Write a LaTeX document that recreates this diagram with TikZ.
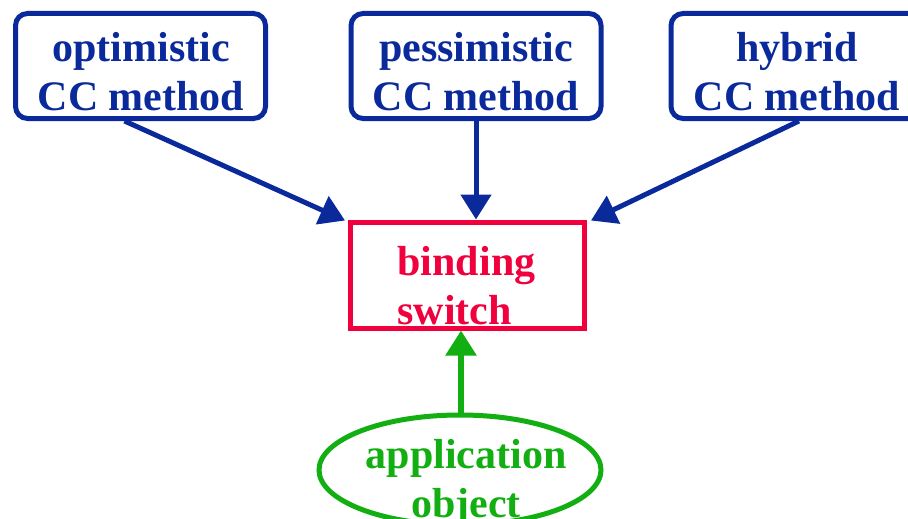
\documentclass[tikz,border=0pt]{standalone}
\usepackage{fontspec}
\setmainfont{Liberation Serif}
\usetikzlibrary{arrows.meta,shapes.geometric}
\definecolor{methodblue}{HTML}{0A2A9C}
\definecolor{switchred}{HTML}{F0003C}
\definecolor{appgreen}{HTML}{12AE12}
\tikzset{
  bigtext/.style={font=\fontsize{42}{49}\selectfont\bfseries, align=center},
  methodbox/.style={draw=methodblue, line width=5pt, rounded corners=12pt,
    minimum width=250pt, minimum height=105pt, inner sep=0pt},
  methodtext/.style={bigtext, text=methodblue},
  feed/.style={draw=methodblue, line width=5pt, -{Triangle[length=25pt,width=30pt]}},
  lift/.style={draw=appgreen, line width=5.5pt, -{Triangle[length=25pt,width=30pt]}},
}
\begin{document}
\begin{tikzpicture}[x=1pt,y=-1pt]
  \useasboundingbox (0,0) rectangle (908,519);
  \clip (0,0) rectangle (908,519);

  % three concurrency-control methods
  \node[methodbox] (opt)  at (140.5,66) {};
  \node[methodbox] (pess) at (476,66) {};
  \node[methodbox] (hyb)  at (796,66) {};
  \node[methodtext] (opttext)  at (141,72) {optimistic\\CC method};
  \node[methodtext] (pesstext) at (476,72) {pessimistic\\CC method};
  \node[methodtext] (hybtext)  at (797,72) {hybrid\\CC method};

  % binding switch
  \node[draw=switchred, line width=5pt, minimum width=234pt, minimum height=106pt,
        inner sep=0pt] (bind) at (467.5,275) {};
  \node[bigtext, text=switchred, align=left] (bindtext) at (466.5,286) {binding\\switch};

  % application object
  \node[ellipse, draw=appgreen, line width=5pt, minimum width=282pt, minimum height=110pt,
        inner sep=0pt, outer sep=0pt] (app) at (460,470) {};
  \node[bigtext, text=appgreen] (apptext) at (466,483) {application\\object};

  % connectors
  \draw[feed] ([xshift=-16pt]opt.south) -- ([xshift=-3pt,yshift=-1pt]bind.north west);
  \draw[feed] (pess.south) -- (pess.south |- bind.north);
  \draw[feed] ([xshift=3pt]hyb.south) -- ([xshift=4pt,yshift=-1pt]bind.north east);
  \draw[lift] ([xshift=1pt]app.north) -- ([xshift=1pt]app.north |- bind.south);
\end{tikzpicture}
\end{document}
